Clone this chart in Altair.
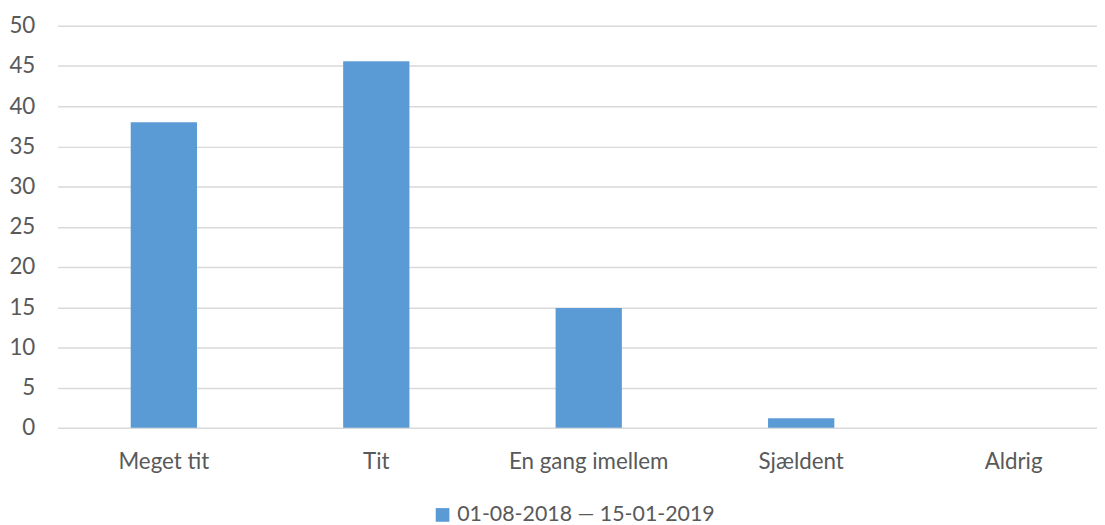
import altair as alt
import pandas as pd

categories = ["Meget tit", "Tit", "En gang imellem", "Sjældent", "Aldrig"]
values = [38.0, 45.6, 14.9, 1.2, 0.0]
series_name = "01-08-2018 — 15-01-2019"

df = pd.DataFrame({"kategori": categories, "vaerdi": values, "serie": [series_name] * len(categories)})

FONT = "Lato"
TXT = "#595959"
FS = 22.5

chart = alt.Chart(df).mark_bar(color="#5B9BD5").encode(
    x=alt.X("kategori:N", sort=categories, title=None,
            scale=alt.Scale(paddingInner=0.688, paddingOuter=0.344, range=[0, 1070]),
            axis=alt.Axis(labelAngle=0, domain=False, ticks=False, labelPadding=23,
                          labelFont=FONT, labelFontSize=FS, labelColor=TXT)),
    y=alt.Y("vaerdi:Q", title=None,
            scale=alt.Scale(domain=[0, 50], nice=False),
            axis=alt.Axis(values=list(range(0, 51, 5)), domain=False, ticks=False,
                          labelPadding=23, gridColor="#D9D9D9", gridWidth=1.5,
                          labelFont=FONT, labelFontSize=FS, labelColor=TXT)),
    color=alt.Color("serie:N", title=None,
                    scale=alt.Scale(domain=[series_name], range=["#5B9BD5"]),
                    legend=alt.Legend(orient="none", legendX=377, legendY=482,
                                      symbolType="square", symbolSize=190,
                                      symbolStrokeWidth=0, labelOffset=4, labelLimit=0,
                                      labelFont=FONT, labelFontSize=21.5, labelColor=TXT)),
).properties(
    width=1047, height=405,
    autosize=alt.AutoSizeParams(type="none"),
    padding={"left": 50, "top": 16, "right": 0, "bottom": 96},
).configure_view(stroke=None)

chart.save("out.html", embed_options={"renderer": "svg", "actions": False})
